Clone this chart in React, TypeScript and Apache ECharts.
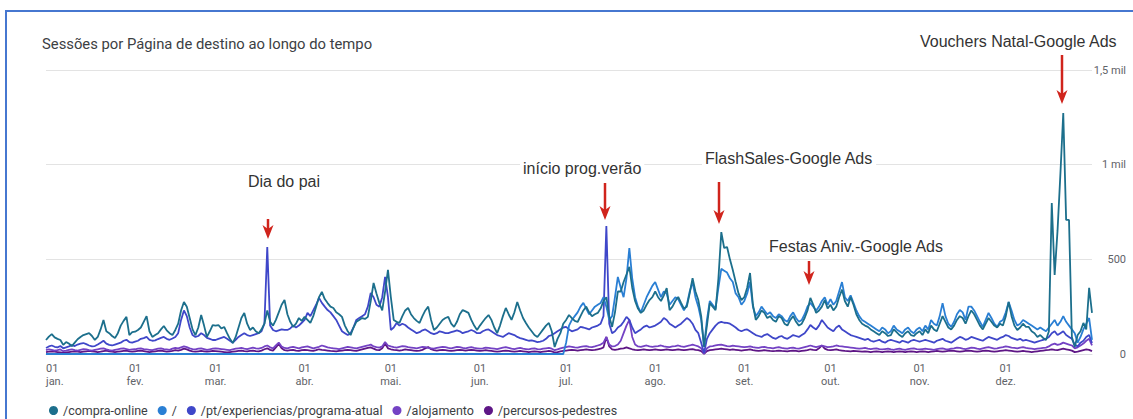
import React, { useEffect, useRef } from "react";
import * as echarts from "echarts";

const monthNames = ["jan.", "fev.", "mar.", "abr.", "mai.", "jun.", "jul.", "ago.", "set.", "out.", "nov.", "dez."];
const monthDays = [31, 28, 31, 30, 31, 30, 31, 31, 30, 31, 30, 31];
const seriesNames = ["/compra-online", "/", "/pt/experiencias/programa-atual", "/alojamento", "/percursos-pedestres"];
const yTickValues = [0, 500, 1000, 1500];
const yTickLabels = ["0", "500", "1 mil", "1,5 mil"];
const annotationTexts = ["Dia do pai", "início prog.verão", "FlashSales-Google Ads", "Festas Aniv.-Google Ads", "Vouchers Natal-Google Ads"];

// daily sessions, one inner array per month (jan..dez)
const compraOnline = [
  [74, 92, 105, 88, 80, 74, 48, 63, 55, 42, 60, 78, 90, 100, 105, 110, 95, 74, 90, 130, 180, 120, 110, 95, 84, 110, 150, 175, 196, 100, 115],
  [118, 127, 140, 170, 200, 120, 90, 100, 110, 130, 148, 125, 110, 100, 127, 160, 230, 275, 250, 190, 130, 100, 140, 206, 150, 90, 120, 153],
  [150, 153, 135, 143, 110, 80, 58, 90, 140, 190, 217, 160, 127, 140, 120, 110, 130, 160, 230, 170, 150, 180, 220, 260, 285, 210, 170, 143, 160, 190, 175],
  [196, 180, 164, 200, 250, 300, 328, 290, 269, 250, 243, 220, 210, 196, 150, 120, 100, 140, 170, 180, 190, 185, 196, 280, 375, 320, 269, 230, 330, 444],
  [300, 180, 170, 164, 200, 230, 243, 210, 190, 175, 164, 200, 230, 250, 180, 127, 140, 160, 180, 190, 196, 160, 143, 170, 210, 232, 225, 217, 180, 150, 127],
  [150, 170, 190, 206, 180, 140, 110, 150, 200, 243, 210, 180, 220, 275, 230, 190, 164, 140, 120, 100, 90, 110, 130, 150, 164, 120, 37, 80, 110, 160],
  [180, 206, 190, 175, 169, 200, 230, 250, 220, 200, 210, 217, 240, 280, 300, 200, 143, 220, 330, 330, 380, 420, 460, 350, 280, 240, 217, 230, 260, 285, 300],
  [330, 300, 280, 310, 348, 232, 250, 280, 301, 270, 240, 250, 320, 401, 330, 285, 200, 37, 150, 269, 250, 232, 400, 644, 560, 565, 500, 444, 380, 320, 285],
  [300, 350, 428, 260, 180, 200, 230, 217, 190, 200, 180, 170, 200, 190, 160, 150, 180, 200, 170, 150, 160, 190, 230, 296, 260, 217, 230, 250, 285, 240],
  [260, 230, 250, 300, 340, 280, 250, 301, 260, 210, 180, 160, 150, 143, 130, 120, 110, 100, 120, 110, 95, 100, 130, 115, 100, 90, 110, 120, 100, 95, 110],
  [120, 100, 130, 110, 150, 130, 120, 160, 200, 170, 140, 130, 150, 180, 200, 190, 160, 200, 230, 210, 180, 150, 130, 160, 190, 170, 150, 140, 160, 150],
  [200, 275, 200, 150, 127, 140, 160, 143, 143, 120, 110, 90, 100, 85, 74, 120, 798, 417, 650, 950, 1273, 708, 708, 90, 37, 100, 120, 164, 130, 350, 217],
];

const raiz = [
  [0, 0, 0, 0, 0, 0, 0, 0, 0, 0, 0, 0, 0, 0, 0, 0, 0, 0, 0, 0, 0, 0, 0, 0, 0, 0, 0, 0, 0, 0, 0],
  [0, 0, 0, 0, 0, 0, 0, 0, 0, 0, 0, 0, 0, 0, 0, 0, 0, 0, 0, 0, 0, 0, 0, 0, 0, 0, 0, 0],
  [0, 0, 0, 0, 0, 0, 0, 0, 0, 0, 0, 0, 0, 0, 0, 0, 0, 0, 0, 0, 0, 0, 0, 0, 0, 0, 0, 0, 0, 0, 0],
  [0, 0, 0, 0, 0, 0, 0, 0, 0, 0, 0, 0, 0, 0, 0, 0, 0, 0, 0, 0, 0, 0, 0, 0, 0, 0, 0, 0, 0, 0],
  [0, 0, 0, 0, 0, 0, 0, 0, 0, 0, 0, 0, 0, 0, 0, 0, 0, 0, 0, 0, 0, 0, 0, 0, 0, 0, 0, 0, 0, 0, 0],
  [0, 0, 0, 0, 0, 0, 0, 0, 0, 0, 0, 0, 0, 0, 0, 0, 0, 0, 0, 0, 0, 0, 0, 0, 0, 0, 0, 0, 0, 0],
  [60, 150, 180, 200, 220, 250, 270, 240, 210, 230, 250, 260, 270, 300, 250, 180, 200, 300, 407, 350, 300, 400, 560, 400, 300, 250, 220, 260, 300, 330, 360],
  [380, 340, 300, 330, 320, 260, 280, 300, 290, 260, 230, 260, 330, 380, 300, 250, 180, 40, 180, 280, 260, 240, 350, 450, 440, 430, 400, 380, 320, 300, 260],
  [280, 320, 380, 250, 200, 220, 250, 230, 210, 220, 200, 190, 210, 200, 180, 170, 200, 220, 190, 170, 180, 210, 250, 270, 250, 230, 250, 280, 300, 260],
  [290, 260, 280, 330, 380, 300, 280, 310, 270, 230, 200, 180, 170, 160, 150, 140, 130, 120, 140, 130, 110, 120, 150, 130, 120, 110, 130, 140, 120, 110, 130],
  [140, 120, 150, 130, 180, 160, 150, 200, 269, 200, 160, 143, 170, 210, 232, 220, 180, 250, 250, 230, 200, 170, 143, 180, 217, 190, 160, 143, 170, 180],
  [220, 275, 230, 180, 150, 160, 180, 170, 160, 150, 140, 130, 140, 130, 120, 140, 160, 180, 150, 170, 200, 170, 150, 130, 110, 60, 90, 130, 160, 190, 74],
];

const programaAtual = [
  [32, 40, 45, 38, 35, 42, 30, 35, 40, 47, 42, 50, 55, 58, 52, 45, 40, 42, 50, 60, 70, 55, 48, 45, 50, 55, 60, 70, 75, 63, 60],
  [65, 70, 80, 84, 90, 75, 70, 72, 79, 85, 90, 80, 75, 82, 90, 110, 180, 230, 200, 140, 100, 90, 95, 110, 100, 85, 80, 74],
  [74, 80, 85, 90, 80, 70, 60, 75, 90, 100, 110, 100, 95, 100, 105, 110, 120, 160, 565, 150, 127, 120, 125, 130, 127, 127, 135, 150, 140, 150, 165],
  [180, 217, 200, 230, 260, 296, 270, 250, 232, 220, 200, 180, 150, 120, 110, 100, 110, 140, 180, 190, 200, 210, 250, 322, 300, 260, 250, 300, 407, 300],
  [127, 140, 164, 150, 160, 153, 140, 130, 120, 110, 115, 125, 130, 120, 110, 105, 110, 120, 115, 110, 110, 115, 120, 125, 120, 110, 115, 120, 127, 120, 110],
  [110, 120, 127, 130, 120, 110, 100, 95, 90, 100, 110, 105, 100, 90, 84, 80, 75, 70, 72, 68, 63, 65, 70, 80, 95, 100, 110, 120, 130, 140],
  [143, 130, 120, 125, 130, 143, 140, 135, 130, 140, 145, 150, 160, 200, 676, 160, 110, 120, 140, 150, 170, 196, 180, 140, 110, 120, 130, 143, 150, 140, 145],
  [150, 160, 170, 190, 180, 160, 150, 140, 150, 160, 175, 190, 180, 160, 127, 110, 60, 5, 80, 110, 130, 150, 164, 170, 165, 164, 160, 150, 140, 127, 120],
  [127, 130, 120, 110, 100, 95, 90, 100, 105, 95, 85, 80, 90, 95, 85, 80, 90, 100, 95, 90, 100, 110, 130, 153, 140, 130, 150, 180, 160, 140],
  [130, 120, 140, 150, 130, 120, 110, 100, 95, 90, 85, 80, 75, 80, 70, 65, 70, 75, 65, 60, 70, 75, 70, 65, 60, 70, 65, 60, 70, 75, 70],
  [65, 70, 75, 70, 65, 60, 70, 75, 80, 70, 65, 60, 70, 80, 90, 85, 75, 80, 90, 85, 80, 75, 70, 80, 90, 85, 80, 75, 85, 90],
  [100, 95, 85, 80, 75, 80, 70, 75, 70, 65, 60, 65, 70, 75, 80, 90, 110, 120, 100, 110, 120, 100, 90, 80, 50, 40, 60, 70, 90, 100, 58],
];

const alojamento = [
  [20, 25, 22, 18, 20, 24, 15, 18, 22, 25, 20, 18, 22, 26, 24, 20, 18, 22, 25, 28, 30, 24, 20, 18, 22, 25, 28, 30, 26, 22, 24],
  [25, 28, 30, 26, 24, 22, 20, 25, 28, 30, 26, 24, 22, 28, 32, 30, 35, 40, 36, 30, 26, 24, 28, 30, 26, 22, 25, 28],
  [30, 28, 26, 24, 22, 20, 25, 28, 30, 32, 28, 26, 30, 34, 30, 28, 32, 40, 45, 35, 30, 45, 60, 40, 32, 30, 35, 38, 34, 30, 35],
  [38, 40, 35, 30, 34, 38, 45, 40, 35, 32, 30, 28, 26, 30, 34, 38, 35, 32, 30, 34, 38, 42, 45, 50, 40, 36, 34, 40, 63, 45],
  [40, 36, 34, 38, 42, 40, 36, 34, 32, 30, 34, 38, 36, 32, 30, 28, 32, 35, 38, 36, 32, 30, 34, 38, 36, 32, 30, 34, 36, 32, 30],
  [28, 30, 34, 32, 30, 28, 26, 30, 34, 36, 32, 28, 26, 30, 32, 28, 26, 24, 28, 30, 26, 24, 28, 30, 32, 28, 20, 24, 30, 34],
  [36, 40, 38, 35, 34, 38, 40, 42, 38, 36, 40, 45, 50, 60, 90, 50, 40, 42, 50, 70, 110, 150, 180, 90, 50, 40, 38, 42, 45, 40, 38],
  [40, 42, 45, 40, 38, 36, 40, 42, 45, 40, 38, 42, 45, 50, 45, 40, 30, 2, 30, 40, 42, 45, 48, 50, 46, 42, 40, 44, 42, 40, 38],
  [36, 38, 40, 36, 34, 32, 36, 38, 34, 32, 30, 34, 36, 32, 30, 28, 32, 34, 30, 28, 32, 36, 40, 45, 40, 36, 40, 44, 40, 36],
  [38, 40, 45, 42, 40, 38, 36, 34, 32, 30, 28, 30, 32, 28, 26, 28, 30, 26, 24, 26, 28, 24, 22, 26, 28, 24, 22, 26, 28, 30, 26],
  [24, 26, 28, 26, 24, 22, 26, 28, 30, 26, 24, 28, 30, 34, 32, 28, 26, 30, 34, 32, 28, 26, 30, 34, 36, 32, 28, 30, 34, 36],
  [40, 38, 34, 32, 30, 34, 36, 32, 30, 28, 26, 28, 30, 32, 34, 40, 50, 55, 48, 52, 60, 55, 50, 45, 30, 35, 45, 55, 70, 80, 45],
];

const percursosPedestres = [
  [10, 12, 14, 12, 10, 8, 6, 8, 10, 12, 14, 12, 10, 12, 14, 16, 14, 12, 10, 12, 15, 18, 14, 12, 10, 12, 14, 16, 18, 14, 12],
  [14, 16, 18, 15, 12, 10, 12, 14, 16, 18, 15, 12, 14, 16, 20, 18, 22, 28, 24, 18, 14, 12, 14, 16, 14, 12, 14, 16],
  [15, 14, 12, 10, 8, 10, 12, 14, 16, 18, 15, 14, 16, 18, 15, 14, 18, 25, 30, 22, 18, 35, 53, 30, 20, 18, 20, 22, 18, 16, 20],
  [22, 20, 18, 16, 20, 25, 22, 20, 18, 16, 15, 14, 16, 18, 20, 22, 20, 18, 16, 20, 24, 28, 32, 35, 28, 22, 20, 30, 55, 30],
  [25, 22, 20, 18, 20, 24, 22, 20, 18, 16, 18, 22, 30, 37, 25, 20, 18, 20, 22, 20, 18, 16, 18, 20, 22, 20, 18, 20, 22, 20, 18],
  [16, 18, 20, 18, 16, 14, 12, 14, 16, 18, 16, 14, 12, 14, 16, 14, 12, 10, 12, 14, 12, 10, 12, 14, 16, 14, 8, 10, 14, 16],
  [18, 20, 22, 20, 18, 20, 22, 24, 22, 20, 22, 25, 28, 35, 90, 40, 25, 22, 24, 28, 30, 35, 30, 25, 22, 20, 22, 24, 22, 20, 22],
  [24, 22, 20, 22, 24, 22, 20, 22, 24, 22, 20, 22, 24, 26, 22, 20, 15, 1, 15, 20, 22, 24, 26, 28, 26, 24, 22, 24, 22, 20, 18],
  [20, 22, 24, 20, 18, 16, 18, 20, 18, 16, 15, 16, 18, 16, 15, 14, 16, 18, 16, 14, 16, 18, 20, 25, 22, 20, 30, 45, 28, 22],
  [20, 22, 24, 20, 18, 16, 15, 14, 16, 15, 14, 12, 14, 12, 10, 12, 14, 12, 10, 12, 14, 12, 10, 12, 14, 12, 10, 12, 14, 12, 10],
  [12, 14, 12, 10, 12, 14, 16, 14, 12, 14, 16, 18, 16, 14, 12, 14, 16, 18, 16, 14, 12, 14, 16, 18, 16, 14, 12, 14, 16, 18],
  [20, 18, 16, 14, 12, 14, 16, 14, 12, 10, 12, 14, 16, 18, 20, 22, 25, 22, 20, 24, 28, 25, 22, 18, 10, 12, 16, 20, 24, 22, 15],
];

const allSeries = [compraOnline, raiz, programaAtual, alojamento, percursosPedestres];
const colors = ["#1c6f8c", "#2a7fd4", "#3f47c9", "#7442c4", "#5e1686"];

function buildDays() {
  const days: string[] = [];
  monthDays.forEach((n, m) => {
    for (let d = 1; d <= n; d++) days.push(`2023-${String(m + 1).padStart(2, "0")}-${String(d).padStart(2, "0")}`);
  });
  return days;
}

const RED = "#d0241c";
function arrow(x: number, y1: number, y2: number) {
  return [
    { type: "line", shape: { x1: x, y1, x2: x, y2: y2 - 8 }, style: { stroke: RED, lineWidth: 2.5 }, silent: true, z: 100 },
    { type: "polygon", shape: { points: [[x - 5.5, y2 - 14], [x, y2 - 10], [x + 5.5, y2 - 14], [x, y2]] }, style: { fill: RED }, silent: true, z: 100 },
  ];
}
function note(text: string, x: number, y: number) {
  return {
    type: "text",
    x,
    y,
    z: 100,
    style: {
      text,
      fill: "#333333",
      font: "16px 'Liberation Sans', Arial, sans-serif",
      verticalAlign: "middle",
      backgroundColor: "#ffffff",
      padding: [1, 3, 1, 3],
    },
    silent: true,
  };
}

export default function App() {
  const ref = useRef<HTMLDivElement>(null);
  useEffect(() => {
    document.body.style.margin = "0";
    const chart = echarts.init(ref.current!, null, { renderer: "svg" });
    const days = buildDays();
    const graphic: any[] = [
      { type: "rect", shape: { x: 6, y: 11, width: 1140, height: 520 }, style: { fill: "none", stroke: "#4677d0", lineWidth: 2 }, silent: true },
      note(annotationTexts[0], 245, 181),
      note(annotationTexts[1], 520, 168),
      note(annotationTexts[2], 702, 158),
      note(annotationTexts[3], 766, 246),
      note(annotationTexts[4], 917, 41),
      ...arrow(268, 219, 239),
      ...arrow(605, 183, 220),
      ...arrow(719, 182, 224),
      ...arrow(809, 261, 285),
      ...arrow(1062, 55, 104),
    ];
    chart.setOption({
      animation: false,
      color: colors,
      title: {
        text: "Sessões por Página de destino ao longo do tempo",
        left: 37,
        top: 31,
        textStyle: { fontFamily: "Roboto", fontSize: 14.8, fontWeight: "normal", color: "#3c4043" },
      },
      legend: {
        left: 44,
        top: 399,
        icon: "circle",
        itemWidth: 9,
        itemHeight: 9,
        itemGap: 10,
        textStyle: { fontFamily: "Roboto", fontSize: 12.5, color: "#3c4043" },
        data: seriesNames,
      },
      grid: { left: 46, right: 41, top: 70, bottom: 65 },
      xAxis: {
        type: "category",
        boundaryGap: false,
        data: days,
        axisLine: { show: true, lineStyle: { color: "#dadce0" } },
        axisTick: { show: false },
        axisLabel: {
          interval: (_i: number, v: string) => v.endsWith("-01"),
          formatter: (v: string) => `01\n${monthNames[parseInt(v.slice(5, 7), 10) - 1]}`,
          color: "#5f6368",
          fontFamily: "Roboto",
          fontSize: 11,
          lineHeight: 13,
          margin: 8,
          alignMinLabel: "left",
        },
        splitLine: { show: false },
      },
      yAxis: {
        type: "value",
        position: "right",
        min: 0,
        max: 1500,
        interval: 500,
        axisLine: { show: false },
        axisTick: { show: false },
        splitLine: { lineStyle: { color: "#e3e3e3", width: 1 } },
        axisLabel: {
          formatter: (v: number) => yTickLabels[yTickValues.indexOf(v)] ?? String(v),
          color: "#5f6368",
          fontFamily: "Roboto",
          fontSize: 11,
          align: "right",
          margin: 34,
        },
      },
      series: allSeries.map((s, i) => ({
        name: seriesNames[i],
        type: "line",
        data: s.flat(),
        showSymbol: false,
        symbol: "none",
        lineStyle: { width: 1.8, color: colors[i] },
        itemStyle: { color: colors[i] },
        z: 10 - i,
      })),
      graphic,
    });
    return () => chart.dispose();
  }, []);
  return <div ref={ref} style={{ width: 1133, height: 419 }} />;
}
